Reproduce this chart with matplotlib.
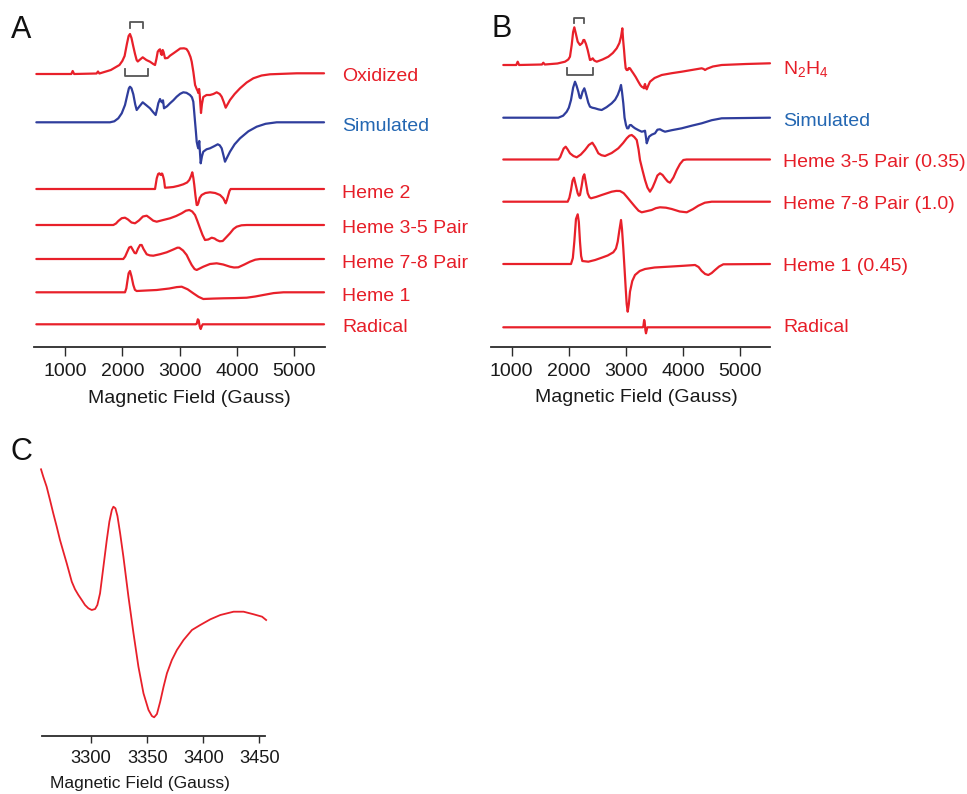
import matplotlib
matplotlib.use("Agg")
import matplotlib.pyplot as plt

plt.rcParams['font.family'] = ['Liberation Sans', 'DejaVu Sans']
plt.rcParams['mathtext.fontset'] = 'custom'
plt.rcParams['mathtext.rm'] = 'Liberation Sans'
plt.rcParams['mathtext.default'] = 'regular'

# ---------------- Panel A data (field in Gauss, signal in arbitrary units) ----------------
ox_field = [500, 1110, 1134, 1160, 1550, 1576, 1600, 1800, 1950, 2000, 2040, 2080, 2110, 2134, 2160, 2190,
            2222, 2250, 2270, 2300, 2356, 2420, 2483, 2540, 2571, 2595, 2618, 2640, 2658, 2675, 2690, 2705,
            2720, 2745, 2790, 2832, 2900, 2949, 3010, 3077, 3120, 3152, 3190, 3211, 3240, 3270, 3298, 3315,
            3326, 3340, 3350, 3373, 3390, 3413, 3470, 3530, 3590, 3647, 3700, 3734, 3770, 3804, 3840, 3879,
            3960, 4054, 4170, 4286, 4430, 4577, 5043, 5520]
ox_amp = [0, 0, 3, 0, 0.5, 2.5, 0.5, 4, 9, 13, 18, 30, 38, 40, 36, 28,
          20, 14, 12.5, 14, 16.7, 14, 12.3, 10, 9, 15, 22.3, 24, 24.7, 20, 19, 24,
          22, 15.7, 16, 18.3, 21, 23, 25.5, 25.7, 25, 22.3, 17, 12.3, 2, -11, -15, -17,
          -19, -15, -20, -39, -30, -23, -21, -21, -20, -18.3, -20, -22.7, -28, -33.7, -30, -26,
          -20, -14.3, -8.5, -4.3, -1.5, -0.3, 0.7, 0.7]

simA_field = [500, 1785, 1860, 1930, 1990, 2047, 2090, 2115, 2134, 2160, 2192, 2225, 2251, 2300, 2356, 2420,
              2483, 2540, 2582, 2610, 2628, 2658, 2675, 2693, 2710, 2728, 2780, 2832, 2890, 2949, 3010, 3064,
              3120, 3181, 3215, 3239, 3255, 3269, 3285, 3298, 3315, 3326, 3343, 3355, 3368, 3390, 3413, 3470,
              3530, 3600, 3665, 3700, 3734, 3765, 3792, 3830, 3879, 3960, 4054, 4200, 4345, 4500, 4694, 5520]
simA_amp = [0, 0, 1, 4, 9, 17.3, 28, 34, 35.6, 34, 28, 18, 12.3, 16, 20, 17,
            14, 10, 7.3, 14, 19, 23.3, 21, 20, 22, 14, 16, 19, 22, 25.6, 28.5, 30,
            29.5, 27.3, 25, 20.6, 10, 0.6, -10, -19.4, -24, -26, -18.7, -30, -41, -34, -29.4, -27,
            -26, -24, -22, -23, -26, -33, -39.4, -35, -29.4, -22, -16, -9, -4.4, -1.5, 0, 0]

h2A_field = [500, 2571, 2585, 2601, 2625, 2646, 2660, 2676, 2690, 2699, 2715, 2728, 2745, 2800, 2890, 2980,
             3064, 3130, 3169, 3200, 3221, 3240, 3256, 3275, 3298, 3312, 3326, 3350, 3385, 3450, 3530, 3620,
             3705, 3740, 3762, 3785, 3804, 3825, 3850, 3870, 3891, 5520]
h2A_amp = [0, 0, 5, 10.7, 15, 15.7, 14.5, 14, 15.5, 15, 12, 9, 1.3, 1.5, 2, 3.2,
           4.7, 6.5, 9, 13, 16.7, 11, 4, -6, -16, -16, -14.3, -9, -6, -4, -3.3, -4,
           -6, -8, -9.3, -12, -14.3, -11, -6, -2, 0, 0]

h35A_field = [500, 1843, 1890, 1930, 1990, 2047, 2100, 2160, 2222, 2290, 2360, 2426, 2480, 2540, 2600, 2700,
              2832, 2940, 3036, 3110, 3169, 3220, 3269, 3310, 3356, 3400, 3443, 3500, 3560, 3610, 3647, 3700,
              3752, 3810, 3879, 3940, 3996, 4080, 4171, 5520]
h35A_amp = [0, 0, 1.5, 4, 6.8, 7.3, 5.5, 2.5, 1.7, 4.5, 8.5, 9.3, 7, 4.3, 3.3, 4.8,
            6.7, 9, 11.7, 14.3, 15, 13.5, 10, 4, -3.3, -10, -15, -14.5, -12.7, -13.5, -15, -16.3,
            -16, -12.5, -8.3, -4, -1.7, -0.3, 0, 0]

h78A_field = [500, 2017, 2050, 2087, 2120, 2152, 2185, 2215, 2239, 2275, 2310, 2338, 2370, 2426, 2480, 2541,
              2660, 2775, 2890, 2960, 2994, 3060, 3123, 3170, 3211, 3260, 3298, 3350, 3413, 3530, 3647, 3760,
              3879, 3950, 4024, 4130, 4228, 4320, 4403, 5520]
h78A_amp = [0, 0, 2.5, 7.3, 11.5, 12.3, 9, 6, 5.7, 10.5, 14, 14, 10, 4.7, 3.6, 3.3,
            4.8, 6.7, 9.5, 11.3, 11.3, 8.5, 4, -1.5, -6, -10, -11, -9.5, -7.7, -5, -4.3, -5.5,
            -7.7, -8.5, -8.3, -5.5, -2.7, -0.7, 0, 0]

h1A_field = [500, 2047, 2070, 2087, 2110, 2134, 2160, 2192, 2220, 2251, 2420, 2600, 2820, 2950, 3036, 3140,
             3239, 3330, 3413, 3580, 3762, 3960, 4171, 4320, 4460, 4640, 4811, 5520]
h1A_amp = [0, 0, 4, 10.6, 19, 21.3, 16, 7.3, 2.5, 1.3, 1.8, 2.3, 3.8, 5.2, 5.6, 3,
           -1, -4.5, -6.7, -6.3, -6, -5.8, -5.4, -4.2, -2.7, -0.8, 0, 0]

radA_field = [500, 3280, 3298, 3318, 3333, 3350, 3368, 3385, 3403, 5520]
radA_amp = [0, 0, 0.5, 5, 4, -2, -4.7, -2, 0, 0]

labelsA = ["Oxidized", "Simulated", "Heme 2", "Heme 3-5 Pair", "Heme 7-8 Pair", "Heme 1", "Radical"]

# ---------------- Panel B data ----------------
n2h4_field = [853, 1080, 1105, 1130, 1530, 1553, 1580, 1800, 1933, 1990, 2020, 2050, 2075, 2096, 2120, 2155,
              2195, 2235, 2255, 2271, 2300, 2330, 2370, 2395, 2418, 2445, 2488, 2590, 2691, 2770, 2838, 2885,
              2913, 2936, 2950, 2966, 2980, 2995, 3012, 3030, 3050, 3070, 3100, 3128, 3170, 3216, 3250, 3275,
              3300, 3315, 3325, 3333, 3348, 3363, 3390, 3420, 3500, 3625, 3800, 3975, 4150, 4325, 4360, 4383,
              4420, 4520, 4675, 5100, 5520]
n2h4_amp = [0, 0, 3.3, 0, 0.5, 2.3, 0.5, 1.5, 3.3, 5.5, 8.3, 20, 33, 37.7, 32, 23.3,
            20, 22, 25, 25, 21, 15, 5, 5.5, 6.7, 4.5, 3.3, 5.5, 8.3, 12, 16.7, 22,
            28.3, 36.7, 25, 15, 5, -3.3, -5, -5, -3, -3.3, -6, -8.3, -12, -16.7, -20, -21.7,
            -22.5, -23.3, -20, -19, -22.5, -24.3, -20.5, -16.7, -13, -10, -8.2, -6.7, -5, -3.3, -4, -5,
            -3.7, -1.5, 0, 1, 1.7]

simB_field = [853, 1816, 1900, 1963, 2000, 2038, 2075, 2108, 2135, 2166, 2190, 2208, 2240, 2271, 2290, 2313,
              2340, 2370, 2410, 2458, 2520, 2575, 2660, 2750, 2810, 2855, 2890, 2913, 2930, 2953, 2975, 3000,
              3020, 3041, 3065, 3088, 3120, 3158, 3220, 3275, 3310, 3333, 3348, 3363, 3385, 3403, 3450, 3508,
              3550, 3595, 3640, 3683, 3800, 3975, 4150, 4325, 4500, 4675, 5520]
simB_amp = [0, 0, 2, 6, 10, 17.7, 30, 36, 32, 26, 20, 19.4, 26, 29.4, 26, 21,
            15, 11, 10, 9.4, 8.3, 7.7, 10.5, 14.4, 18, 22.7, 28, 32.7, 26, 14.4, 0, -7.3,
            -10.6, -10.6, -7.5, -7.3, -9, -10.6, -12.5, -14, -13.5, -13, -19, -25.6, -22, -19, -17, -15.6,
            -12, -11.6, -13, -14, -12.5, -10.6, -8, -5.6, -2.5, -0.6, 0]

h35B_field = [853, 1816, 1850, 1875, 1910, 1945, 1980, 2020, 2080, 2138, 2210, 2283, 2350, 2411, 2460, 2516,
              2570, 2633, 2750, 2866, 2950, 3013, 3060, 3100, 3145, 3188, 3220, 3245, 3290, 3333, 3375, 3420,
              3465, 3508, 3550, 3595, 3640, 3683, 3730, 3770, 3830, 3888, 3945, 4003, 4060, 5520]
h35B_amp = [0, 0, 2.5, 6.2, 11, 12.8, 10, 6.2, 3.5, 2.2, 5, 9.5, 14.5, 16.8, 12.5, 6.2,
            4.3, 3.5, 6.5, 11.2, 16.5, 21.2, 23.8, 24.5, 22.5, 19.5, 10, -0.5, -11, -20.5, -28, -32.2,
            -28, -22.2, -16, -13.8, -15.5, -18.8, -22, -23.2, -18, -10.5, -4.5, -0.5, 0, 0]

h78B_field = [853, 1980, 2010, 2038, 2065, 2090, 2115, 2155, 2175, 2195, 2225, 2250, 2271, 2295, 2330, 2360,
              2388, 2480, 2575, 2660, 2750, 2830, 2895, 2960, 3013, 3085, 3158, 3220, 3275, 3360, 3450, 3520,
              3595, 3700, 3800, 3940, 4063, 4170, 4266, 4380, 4500, 5520]
h78B_amp = [0, 0, 4, 11.7, 21, 24, 18, 8.4, 6, 6.7, 16, 25, 27.4, 20, 8.4, 4.5,
            3.4, 4.8, 6.7, 8.3, 10, 10.8, 10.7, 8.5, 5, 0, -5, -9, -10.6, -9.5, -8.3, -6.5,
            -5.6, -6, -7.3, -9.8, -10.6, -7.5, -4, -1, 0, 0]

h1B_field = [853, 2038, 2070, 2096, 2125, 2155, 2175, 2195, 2215, 2236, 2341, 2460, 2575, 2680, 2778, 2825,
             2855, 2885, 2913, 2930, 2953, 2975, 2995, 3012, 3030, 3050, 3070, 3110, 3158, 3240, 3333, 3500,
             3741, 4000, 4208, 4270, 4325, 4385, 4441, 4500, 4558, 4630, 4703, 5520]
h1B_amp = [0, 0, 6, 22.3, 45, 49.7, 42, 22.3, 8, 3, 2.3, 4, 6.3, 8.5, 11.7, 15.5,
           22.3, 34, 44, 35, 15.7, -5, -24.3, -40, -47.7, -40, -27.7, -17, -11, -7, -5, -3.5,
           -2.7, -1.8, -1, -3, -7, -10, -11, -9, -6, -2.5, -0.3, 0]

radB_field = [853, 3295, 3303, 3318, 3328, 3340, 3350, 3362, 3373, 5520]
radB_amp = [0, 0, 0.5, 7.3, 5, -3, -6, -3, 0, 0]

labelsB = ["N$_2$H$_4$", "Simulated", "Heme 3-5 Pair (0.35)", "Heme 7-8 Pair (1.0)", "Heme 1 (0.45)", "Radical"]

# ---------------- Panel C data ----------------
c_field = [3255.4, 3257.4, 3260.4, 3263.4, 3266.3, 3269.4, 3272.3, 3275.3, 3278.3, 3282.8, 3285.7, 3288.7,
           3291.7, 3294.6, 3297.6, 3300.6, 3303.6, 3305.6, 3308, 3311, 3314, 3316.3, 3318.5, 3319.9,
           3321.7, 3323.5, 3325.9, 3328.8, 3333.3, 3337.8, 3342.2, 3346.7, 3351.2, 3354.2, 3356.2, 3358.7,
           3361.6, 3364.6, 3367.6, 3372, 3376.5, 3382.4, 3389.9, 3397.3, 3406.3, 3415.2, 3427, 3435.9,
           3444.9, 3452.4, 3456]
c_amp = [266.7, 259.3, 249.3, 236, 222.7, 209.3, 196, 184.3, 172.7, 154.3, 146.7, 141,
         136, 131, 127.7, 126, 127, 131, 142.7, 169.3, 196, 214.3, 226, 229.3,
         227.7, 220, 202.7, 179.3, 139.3, 102.7, 69.3, 42.7, 26, 20, 18.7, 22,
         34.3, 49.3, 62.7, 76, 86, 96, 106, 111, 116.7, 121, 124.3, 124.3,
         121.7, 119.3, 116]

ticksAB = [1000, 2000, 3000, 4000, 5000]
ticksC = [3300, 3350, 3400, 3450]
xlabel = "Magnetic Field (Gauss)"

# ---------------- styling ----------------
W, H = 967, 794
RED = '#e8202a'
RED_T = '#e61e28'
NAVY = '#2f3d9c'
BLUE_T = '#2467b2'
GRAY = '#555555'
AXC = '#2b2b2b'

fig = plt.figure(figsize=(W / 100, H / 100), dpi=100)


def ax_px(left, right, spine_y, top):
    return fig.add_axes([left / W, 1 - spine_y / H, (right - left) / W, (spine_y - top) / H])


def style(ax, ticks, fs, tl, pad):
    for s in ['left', 'top', 'right']:
        ax.spines[s].set_visible(False)
    ax.spines['bottom'].set_color(AXC)
    ax.spines['bottom'].set_linewidth(1.3)
    ax.set_yticks([])
    ax.set_xticks(ticks)
    ax.tick_params(axis='x', direction='out', length=tl, width=1.0, color=AXC,
                   labelsize=fs, pad=pad, labelcolor='#1a1a1a')
    ax.patch.set_alpha(0)


def ftext(x, y, s, **kw):
    fig.text(x / W, 1 - y / H, s, **kw)


# Panel A
axA = ax_px(34, 325, 347.3, 15)
axA.set_xlim(459, 5537)
axA.set_ylim(0, 332.3)
style(axA, ticksAB, 14, 6.5, 4.5)
offA = [273.3, 225, 158.3, 122.3, 88.3, 55, 23]
seriesA = [(ox_field, ox_amp, RED), (simA_field, simA_amp, NAVY), (h2A_field, h2A_amp, RED),
           (h35A_field, h35A_amp, RED), (h78A_field, h78A_amp, RED), (h1A_field, h1A_amp, RED),
           (radA_field, radA_amp, RED)]
for (f, a, c), o in zip(seriesA, offA):
    axA.plot(f, [v + o for v in a], color=c, lw=1.6, clip_on=False,
             solid_joinstyle='round', solid_capstyle='round')
# brackets
axA.plot([2134, 2134, 2367, 2367], [319, 325, 325, 319], color=GRAY, lw=1.3, clip_on=False)
axA.plot([2047, 2047, 2454, 2454], [278.3, 271.6, 271.6, 278.3], color=GRAY, lw=1.3, clip_on=False)

label_yA = [81, 131, 198, 232.7, 267.7, 300.7, 331.7]
for lab, y in zip(labelsA, label_yA):
    ftext(342, y, lab, fontsize=14, color=BLUE_T if lab == "Simulated" else RED_T, va='baseline', ha='left')

# Panel B
axB = ax_px(491, 770, 347.3, 10)
axB.set_xlim(638, 5520)
axB.set_ylim(0, 337.3)
style(axB, ticksAB, 14, 6.5, 4.5)
offB = [282.3, 229.6, 187.8, 145.6, 83.3, 20]
seriesB = [(n2h4_field, n2h4_amp, RED), (simB_field, simB_amp, NAVY), (h35B_field, h35B_amp, RED),
           (h78B_field, h78B_amp, RED), (h1B_field, h1B_amp, RED), (radB_field, radB_amp, RED)]
for (f, a, c), o in zip(seriesB, offB):
    axB.plot(f, [v + o for v in a], color=c, lw=1.6, clip_on=False,
             solid_joinstyle='round', solid_capstyle='round')
axB.plot([2096, 2096, 2271, 2271], [324, 329, 329, 324], color=GRAY, lw=1.3, clip_on=False)
axB.plot([1963, 1963, 2418, 2418], [279, 272.3, 272.3, 279], color=GRAY, lw=1.3, clip_on=False)

label_yB = [74, 126, 166.7, 209.3, 270.7, 332.3]
for lab, y in zip(labelsB, label_yB):
    ftext(783, y, lab, fontsize=14, color=BLUE_T if lab == "Simulated" else RED_T, va='baseline', ha='left')

# Panel C
axC = ax_px(41.7, 265, 736, 455)
axC.set_xlim(3256, 3455)
axC.set_ylim(0, 281)
style(axC, ticksC, 13.2, 5, 5)
axC.plot(c_field, c_amp, color=RED, lw=1.3, clip_on=False, solid_joinstyle='round')

# axis labels
ftext(189, 403, xlabel, fontsize=14, ha='center', va='baseline', color='#1a1a1a')
ftext(636, 401.7, xlabel, fontsize=14, ha='center', va='baseline', color='#1a1a1a')
ftext(140, 788, xlabel, fontsize=12.5, ha='center', va='baseline', color='#1a1a1a')

# panel letters
ftext(11, 38.3, "A", fontsize=22, ha='left', va='baseline', color='#111111')
ftext(491, 37.3, "B", fontsize=22, ha='left', va='baseline', color='#111111')
ftext(11, 460, "C", fontsize=22, ha='left', va='baseline', color='#111111')

fig.savefig("out.png", dpi=100)
